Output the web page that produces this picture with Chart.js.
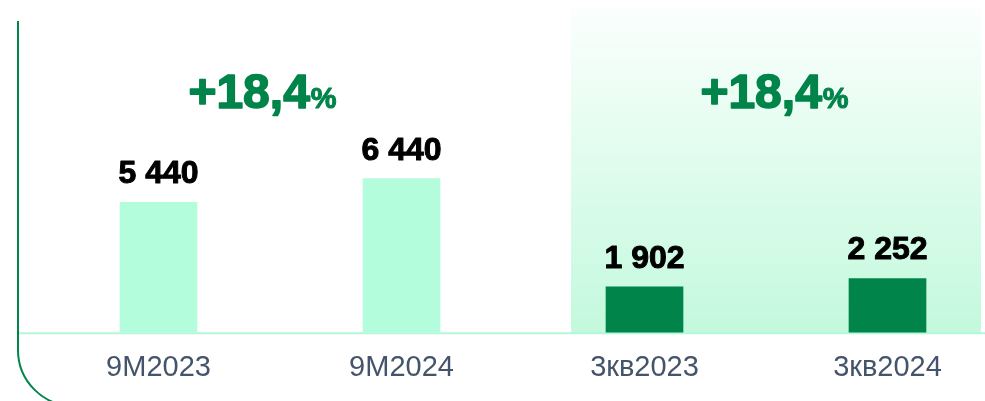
<!DOCTYPE html>
<html>
<head>
<meta charset="UTF-8">
<title>9M / 3кв</title>
<script src="https://cdn.jsdelivr.net/npm/chart.js@4.4.1/dist/chart.umd.min.js"></script>
<style>
    body { margin: 0; background: #fff; }
    canvas { display: block; }
</style>
</head>
<body>
<canvas id="chart" width="985" height="401"></canvas>
<script>
const categories = ['9M2023', '9M2024', '3кв2023', '3кв2024'];
const values = [5440, 6440, 1902, 2252];
const barColors = ['#b4fddc', '#b4fddc', '#00844a', '#00844a'];
// прирост для каждой пары (9М и 3кв)
const growthLabels = ['+18,4', '+18,4'];
const growthPairs = [[0, 1], [2, 3]];

const FONT = '"Liberation Sans", Arial, sans-serif';
const GREEN = '#00844a';

function fmt(v) {
    return String(v).replace(/\B(?=(\d{3})+(?!\d))/g, ' ');
}

// жирный текст чуть плотнее, как в исходнике
function heavyText(ctx, text, x, y, w) {
    ctx.lineWidth = w;
    ctx.lineJoin = 'round';
    ctx.strokeStyle = ctx.fillStyle;
    ctx.strokeText(text, x, y);
    ctx.fillText(text, x, y);
}

// фон для квартала и рамка слева
const backdrop = {
    id: 'backdrop',
    beforeDatasetsDraw(chart) {
        const ctx = chart.ctx;
        const y0 = chart.scales.y.getPixelForValue(0);
        ctx.save();
        const g = ctx.createLinearGradient(0, 7, 0, y0 + 1);
        g.addColorStop(0, '#fbfffd');
        g.addColorStop(1, '#c3f9dd');
        ctx.fillStyle = g;
        ctx.fillRect(571, 7, 410, y0 + 1 - 7);

        // базовая линия
        ctx.strokeStyle = '#b4f7d9';
        ctx.lineWidth = 2;
        ctx.beginPath();
        ctx.moveTo(18, y0 + 1);
        ctx.lineTo(chart.width, y0 + 1);
        ctx.stroke();

        // левая рамка с закруглением
        ctx.strokeStyle = GREEN;
        ctx.lineWidth = 2;
        ctx.beginPath();
        ctx.moveTo(18, 21);
        ctx.lineTo(18, 350);
        ctx.arc(74, 350, 56, Math.PI, Math.PI / 2, true);
        ctx.stroke();
        ctx.restore();
    }
};

const labels = {
    id: 'labels',
    afterDatasetsDraw(chart) {
        const ctx = chart.ctx;
        const meta = chart.getDatasetMeta(0);
        ctx.save();
        ctx.textAlign = 'center';
        ctx.textBaseline = 'alphabetic';
        ctx.fillStyle = '#000';
        ctx.font = 'bold 32px ' + FONT;
        meta.data.forEach((bar, i) => {
            heavyText(ctx, fmt(values[i]), bar.x, bar.y - 19, 1);
        });

        // проценты прироста
        const dx = [-18, 8];
        growthPairs.forEach((p, k) => {
            const cx = (meta.data[p[0]].x + meta.data[p[1]].x) / 2 + dx[k];
            ctx.font = 'bold 48px ' + FONT;
            const w1 = ctx.measureText(growthLabels[k]).width;
            ctx.font = 'bold 29px ' + FONT;
            const w2 = ctx.measureText('%').width;
            const left = cx - (w1 + w2) / 2;
            ctx.fillStyle = GREEN;
            ctx.textAlign = 'left';
            ctx.font = 'bold 48px ' + FONT;
            heavyText(ctx, growthLabels[k], left, 108, 1.6);
            ctx.font = 'bold 29px ' + FONT;
            heavyText(ctx, '%', left + w1 + 1, 108, 1);
        });
        ctx.restore();
    }
};

new Chart(document.getElementById('chart'), {
    type: 'bar',
    data: {
        labels: categories,
        datasets: [{
            data: values,
            backgroundColor: barColors,
            barThickness: 77,
            borderWidth: 0,
            clip: false
        }]
    },
    options: {
        responsive: false,
        animation: false,
        layout: { padding: { left: 158.5, right: 97.5, top: 22, bottom: -2 } },
        plugins: {
            legend: { display: false },
            tooltip: { enabled: false }
        },
        scales: {
            x: {
                offset: false,
                grid: { display: false, drawTicks: false },
                border: { display: false },
                ticks: {
                    padding: 18,
                    color: '#44546a',
                    font: { family: FONT, size: 29 }
                }
            },
            y: {
                display: false,
                min: 0,
                max: 13000
            }
        }
    },
    plugins: [backdrop, labels]
});
</script>
</body>
</html>
